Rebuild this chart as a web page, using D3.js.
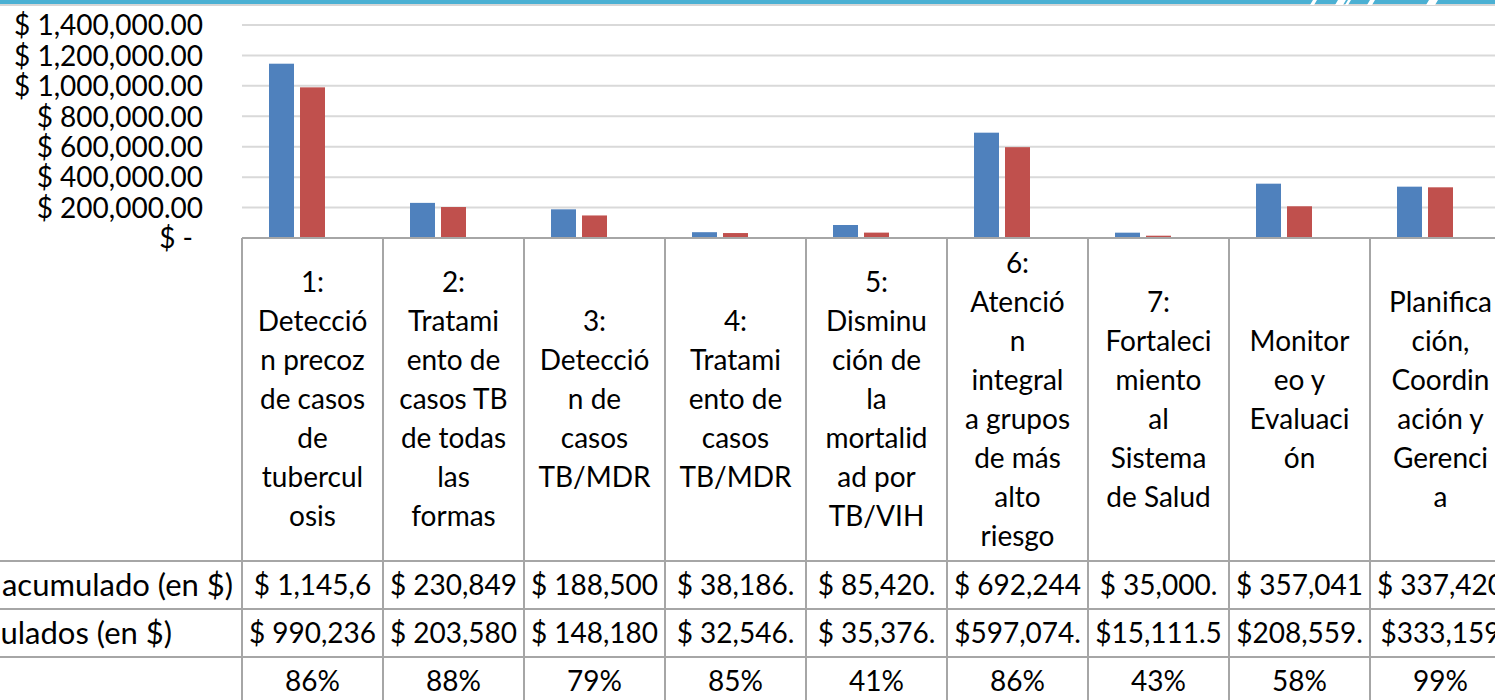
<!DOCTYPE html>
<html><head><meta charset="utf-8">
<script src="https://cdn.jsdelivr.net/npm/d3@7"></script>
<style>html,body{margin:0;padding:0;background:#fff;overflow:hidden}</style>
</head><body><svg id="c" width="1495" height="700"></svg>
<script>
// ---------- DATA ----------
const categories = [
  ["1:", "Detecció", "n precoz", "de casos", "de", "tubercul", "osis"],
  ["2:", "Tratami", "ento de", "casos TB", "de todas", "las", "formas"],
  ["3:", "Detecció", "n de", "casos", "TB/MDR"],
  ["4:", "Tratami", "ento de", "casos", "TB/MDR"],
  ["5:", "Disminu", "ción de", "la", "mortalid", "ad por", "TB/VIH"],
  ["6:", "Atenció", "n", "integral", "a grupos", "de más", "alto", "riesgo"],
  ["7:", "Fortaleci", "miento", "al", "Sistema", "de Salud"],
  ["Monitor", "eo y", "Evaluaci", "ón"],
  ["Planifica", "ción,", "Coordin", "ación y", "Gerenci", "a"]
];
const seriesNames = ["Presupuesto acumulado (en $)", "Gastos acumulados (en $)", "%"];
const budget = [1145650, 230849, 188500, 38186, 85420, 692244, 35000, 357041, 337420];
const spent  = [990236, 203580, 148180, 32546, 35376, 597074, 15111.5, 208559, 333159];
const pct    = [0.86, 0.88, 0.79, 0.85, 0.41, 0.86, 0.43, 0.58, 0.99];
const budgetText = ["$ 1,145,6", "$ 230,849", "$ 188,500", "$ 38,186.", "$ 85,420.", "$ 692,244", "$ 35,000.", "$ 357,041", "$ 337,420"];
const spentText  = ["$ 990,236", "$ 203,580", "$ 148,180", "$ 32,546.", "$ 35,376.", "$597,074.", "$15,111.5", "$208,559.", "$333,159"];
const pctText    = ["86%", "88%", "79%", "85%", "41%", "86%", "43%", "58%", "99%"];
const yTicks = [0, 200000, 400000, 600000, 800000, 1000000, 1200000, 1400000];

// ---------- LAYOUT ----------
const svg = d3.select("#c");
const FONT = "Lato, 'Open Sans', sans-serif";
const FS = 28;
const plotLeft = 242, catW = 141;
const yTop = 25, yBase = 238;
const headerBottom = 561, row1Bottom = 609, row2Bottom = 657, row3Bottom = 705;
const colors = ["#4f81bd", "#c0504d", "#9bbb59"];
const lineCol = "#a6a6a6";

const idx = categories.map((d, i) => i);
const x0 = d3.scaleBand().domain(idx).range([plotLeft, plotLeft + catW * categories.length]).padding(0);
const x1 = d3.scaleBand().domain([0, 1, 2]).range([0, x0.bandwidth()]).paddingInner(6 / 31).paddingOuter(0.871);
const y = d3.scaleLinear().domain([0, 1400000]).range([yBase, yTop]);

// top banner
svg.append("rect").attr("x", 0).attr("y", 0).attr("width", 1495).attr("height", 4).attr("fill", "#4bb0d3");
svg.append("rect").attr("x", 0).attr("y", 4).attr("width", 1495).attr("height", 2).attr("fill", "#d6d6d6");
[[1310, 4], [1335, 8], [1345, 3], [1367, 5], [1426, 9]].forEach(([sx, w]) => {
  svg.append("path").attr("d", `M${sx},5 L${sx + w},5 L${sx + w + 3},0 L${sx + 3},0 Z`).attr("fill", "#fff");
});

// gridlines
const yAxis = d3.axisLeft(y).tickValues(yTicks).tickSize(0).tickFormat(d => d === 0 ? "$ -" : "$ " + d3.format(",.2f")(d));
svg.append("g").selectAll("line").data(yTicks.filter(d => d > 0)).join("line")
  .attr("x1", plotLeft).attr("x2", 1495).attr("y1", d => y(d)).attr("y2", d => y(d))
  .attr("stroke", "#d9d9d9").attr("stroke-width", 2);

// y axis labels
const gy = svg.append("g").attr("transform", "translate(203,0)").call(yAxis);
gy.select(".domain").remove();
gy.selectAll("text").attr("font-family", FONT).attr("font-size", FS).attr("fill", "#000")
  .attr("dy", "0.35em").attr("x", d => d === 0 ? -10 : 0);

// bars
const series = [budget, spent, pct];
const g = svg.append("g");
series.forEach((vals, s) => {
  g.selectAll(".b" + s).data(vals).join("rect")
    .attr("x", (d, i) => x0(i) + x1(s))
    .attr("width", x1.bandwidth())
    .attr("y", d => y(d))
    .attr("height", d => yBase - y(d))
    .attr("fill", colors[s]);
});

// table lines
const tl = svg.append("g").attr("stroke", lineCol).attr("stroke-width", 2);
tl.append("line").attr("x1", plotLeft).attr("x2", 1495).attr("y1", yBase).attr("y2", yBase);
[headerBottom, row1Bottom, row2Bottom].forEach(yy => {
  tl.append("line").attr("x1", 0).attr("x2", 1495).attr("y1", yy).attr("y2", yy);
});
idx.forEach(i => {
  tl.append("line").attr("x1", x0(i)).attr("x2", x0(i)).attr("y1", yBase).attr("y2", 700);
});

// category labels
const lh = 39;
const hc = (yBase + headerBottom) / 2;
const cg = svg.append("g").attr("font-family", FONT).attr("font-size", FS).attr("text-anchor", "middle");
categories.forEach((lines, i) => {
  const cx = x0(i) + x0.bandwidth() / 2;
  const n = lines.length;
  lines.forEach((t, k) => {
    cg.append("text").attr("x", cx).attr("y", hc - (n - 1) / 2 * lh + k * lh).attr("dy", "0.35em").text(t);
  });
});

// table rows
const rows = [
  {texts: budgetText, top: headerBottom, bottom: row1Bottom},
  {texts: spentText, top: row1Bottom, bottom: row2Bottom},
  {texts: pctText, top: row2Bottom, bottom: row3Bottom}
];
const tg = svg.append("g").attr("font-family", FONT).attr("font-size", FS).attr("text-anchor", "middle");
rows.forEach(r => {
  r.texts.forEach((t, i) => {
    tg.append("text").attr("x", x0(i) + x0.bandwidth() / 2).attr("y", (r.top + r.bottom) / 2).attr("dy", "0.35em").text(t);
  });
});

// row labels (partially off-screen, as in reference)
const lg = svg.append("g").attr("font-family", FONT).attr("font-size", 31).attr("text-anchor", "end");
lg.append("text").attr("x", 233).attr("y", (headerBottom + row1Bottom) / 2).attr("dy", "0.35em").text(seriesNames[0]);
lg.append("text").attr("x", 172).attr("y", (row1Bottom + row2Bottom) / 2).attr("dy", "0.35em").text(seriesNames[1]);
</script></body></html>
